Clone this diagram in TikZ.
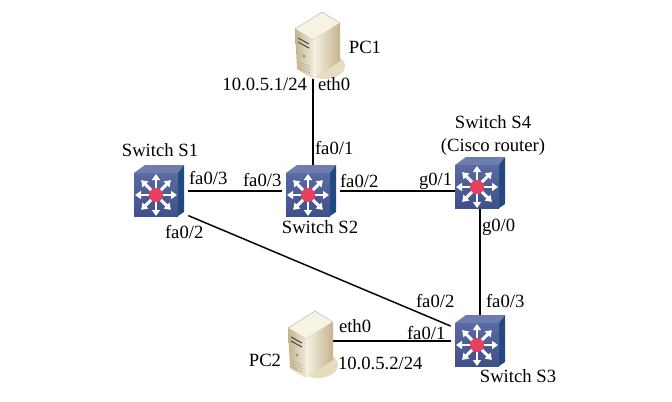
\documentclass[tikz,border=0pt]{standalone}
\usepackage{fontspec}
\setmainfont{Liberation Serif}
\usetikzlibrary{arrows.meta}
\definecolor{swfront}{HTML}{5A6BA3}
\definecolor{swfrontdk}{HTML}{3F4F8A}
\definecolor{swtop}{HTML}{6F7DAE}
\definecolor{swside}{HTML}{234A80}
\definecolor{swred}{HTML}{E8405F}
\definecolor{pcfront}{HTML}{EFE8D2}
\definecolor{pcside}{HTML}{C4B48C}
\definecolor{pctop}{HTML}{F6F2E4}
\definecolor{pcshadow}{HTML}{E6DCC0}
\tikzset{
  device/.style={minimum width=44pt,minimum height=38pt,inner sep=0pt,outer sep=0pt},
  link/.style={line width=1.1pt,black},
  lbl/.style={font=\fontsize{14}{16}\selectfont,inner sep=0pt,outer sep=0pt},
  switchicon/.pic={
    \fill[swtop] (-25,-18) -- (-14,-26) -- (25,-26) -- (19,-18) -- cycle;
    \fill[swside] (19,-18) -- (25,-26) -- (25,21) -- (19,25) -- cycle;
    \shade[top color=swfront,bottom color=swfrontdk] (-25,-18) rectangle (19,25);
    \foreach \a in {0,45,...,315}
      \draw[white,line width=2.2pt,-{Triangle[length=4.5pt,width=6pt]}] (-3,4) -- ++(\a:21);
    \fill[swred] (-3,4) circle (7);
  },
  pcicon/.pic={
    \fill[pcshadow] (8,24) ellipse (20 and 13);
    \draw[black!30,line width=0.3pt,fill=pctop] (-22,-13) -- (5,-30) -- (23,-19) -- (-4,-2) -- cycle;
    \shade[left color=pctop,right color=pcside] (-4,-2) -- (23,-19) -- (23,19) -- (-4,37) -- cycle;
    \shade[left color=pcside,right color=pcfront] (-22,-13) -- (-4,-2) -- (-4,37) -- (-20,27) -- cycle;
    \draw[black!70,line width=0.8pt] (-19,-4) -- (-8,2) (-19,0) -- (-8,6);
    \fill[teal!70] (-13,14) circle (1.5);
    \foreach \y in {20,23,26}
      \draw[black!35,line width=0.3pt] (-18,\y) -- (-7,\y+5);
  }
}
\begin{document}
\begin{tikzpicture}[x=0.75pt,y=-0.75pt]
\useasboundingbox (0,0) rectangle (672,401);
% devices
\node[device] (s1) at (159,191) {};
\node[device] (s2) at (311,191) {};
\node[device] (s3) at (480,341) {};
\node[device] (s4) at (480,183) {};
\node[device,minimum width=33pt,minimum height=50pt] (pc1) at (313,42) {};
\node[device,minimum width=33pt,minimum height=50pt] (pc2) at (310,341) {};
% links
\draw[link] (s1) -- (s2);
\draw[link] (s2) -- (s2 -| s4);
\draw[link] (pc1.south) -- (pc1.south |- s2.north);
\draw[link] (s4) -- (s3);
\draw[link] (s1.-40) -- (s3.153);
\draw[link] (pc2) -- (s3);
% icons
\foreach \n in {s1,s2,s3,s4}
  \pic at (\n) {switchicon};
\pic at ([xshift=3pt]pc1) {pcicon};
\pic at (pc2) {pcicon};
% labels
\node[lbl] (pc1name) at (365,47) {PC1};
\node[lbl,anchor=east] (pc1ip) at (307,84) {10.0.5.1/24};
\node[lbl,anchor=west] (pc1if) at (318,84) {eth0};
\node[lbl,anchor=west] (s2a) at (315,148) {fa0/1};
\node[lbl] (s1name) at (160,150) {Switch S1};
\node[lbl,anchor=west] (s1b) at (189,178) {fa0/3};
\node[lbl,anchor=west] (s2b) at (243,180) {fa0/3};
\node[lbl,anchor=west] (s2c) at (340,181) {fa0/2};
\node[lbl,anchor=west] (s4a) at (419,181) {g0/1};
\node[lbl] (s4name) at (493,122) {Switch S4};
\node[lbl] (s4note) at (493,147) {(Cisco router)};
\node[lbl,anchor=west] (s4b) at (482,227) {g0/0};
\node[lbl] (s2name) at (320,227) {Switch S2};
\node[lbl,anchor=west] (s1c) at (165,232) {fa0/2};
\node[lbl,anchor=west] (s3a) at (416,301) {fa0/2};
\node[lbl,anchor=west] (s3b) at (486,301) {fa0/3};
\node[lbl,anchor=west] (pc2if) at (339,326) {eth0};
\node[lbl,anchor=west] (s3c) at (407,333) {fa0/1};
\node[lbl] (pc2name) at (265,360) {PC2};
\node[lbl,anchor=west] (pc2ip) at (338,363) {10.0.5.2/24};
\node[lbl] (s3name) at (518,376) {Switch S3};
\end{tikzpicture}
\end{document}
